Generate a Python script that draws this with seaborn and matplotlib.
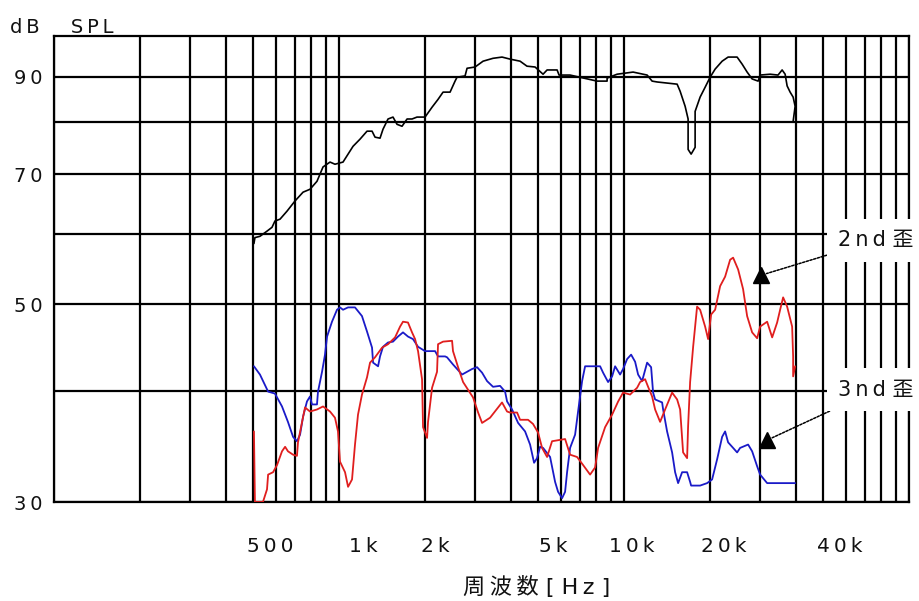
import numpy as np
import pandas as pd
import matplotlib
matplotlib.use("Agg")
import matplotlib.pyplot as plt
from matplotlib.ticker import FixedLocator, FixedFormatter, LogLocator, NullFormatter, NullLocator
import seaborn as sns

# ---------------- data ----------------
fund_hz = [503, 507, 528, 559, 582, 596, 621, 657, 701, 748, 791, 837, 879, 930, 968, 1033, 1076,
           1120, 1185, 1254, 1306, 1338, 1393, 1427, 1486, 1547, 1598, 1664, 1733, 1804, 1878, 2004,
           2121, 2226, 2318, 2453, 2554, 2595, 2769, 2814, 3002, 3203, 3471, 3733, 3983, 4319, 4566,
           4875, 5200, 5372, 5825, 5918, 6469, 8046, 8724, 8724, 9458, 10763, 12054, 12550, 13067,
           15360, 15737, 16385, 16786, 16786, 17200, 17764, 17764, 18497, 19259, 20053, 20880, 22097,
           23189, 24940, 25965, 27040, 28156, 29554, 30036, 32564, 34710, 35878, 36760, 37356, 38276,
           39213, 39854, 39213]
fund_db = [58.5, 59.4, 59.6, 60.4, 61.0, 62.0, 62.3, 63.6, 65.3, 66.8, 67.3, 68.7, 71.3, 72.2, 71.8,
           72.2, 73.7, 75.2, 76.6, 78.2, 78.2, 77.0, 76.8, 78.6, 80.7, 81.1, 79.6, 79.2, 80.7, 80.7,
           81.1, 81.1, 83.2, 84.9, 86.5, 86.5, 89.0, 89.9, 90.2, 92.0, 92.3, 93.7, 94.4, 94.7, 94.2,
           93.7, 92.5, 92.3, 90.6, 91.6, 91.6, 90.4, 90.4, 89.0, 89.0, 89.7, 90.6, 91.1, 90.4, 89.0,
           88.8, 88.3, 86.7, 83.4, 80.7, 74.6, 73.7, 75.0, 82.3, 85.4, 87.6, 89.9, 91.8, 93.7, 94.7,
           94.7, 93.0, 91.1, 89.5, 89.0, 90.4, 90.6, 90.4, 91.6, 90.6, 87.9, 86.5, 85.4, 83.4, 80.2]

h2_hz = [503, 507, 541, 559, 564, 587, 606, 631, 647, 662, 690, 712, 718, 742, 760, 791, 837, 879,
         930, 968, 992, 1008, 1050, 1076, 1111, 1138, 1166, 1204, 1254, 1285, 1338, 1416, 1486, 1573,
         1638, 1677, 1746, 1804, 1849, 1894, 1956, 1972, 2037, 2053, 2121, 2208, 2226, 2318, 2493,
         2512, 2617, 2725, 2954, 3077, 3177, 3389, 3733, 3888, 3983, 4216, 4319, 4606, 4796, 4994,
         5159, 5372, 5592, 6213, 6469, 6845, 7189, 7604, 7918, 8112, 8584, 9084, 9539, 9926, 10506,
         11117, 11390, 11860, 12150, 12550, 12858, 13388, 13940, 14751, 15360, 15737, 16120, 16652,
         16786, 17061, 17482, 18048, 18497, 19259, 19731, 20216, 20880, 21741, 22637, 23571, 24146,
         25148, 26173, 27040, 28156, 29317, 30036, 31785, 33104, 34461, 35305, 36170, 37356, 38900,
         39213, 39213, 39854]
h2_db = [36.0, 30.0, 30.0, 31.0, 32.2, 32.4, 33.0, 34.2, 34.6, 34.2, 33.9, 33.8, 35.0, 36.9, 38.3,
         37.9, 38.1, 38.4, 37.9, 37.3, 36.0, 33.3, 32.4, 31.2, 31.8, 34.8, 37.6, 39.6, 41.4, 43.0,
         43.6, 44.7, 45.1, 45.9, 47.2, 47.8, 47.7, 46.5, 45.7, 44.3, 41.2, 36.4, 35.4, 36.9, 40.3,
         42.0, 45.1, 45.4, 45.5, 44.3, 42.5, 40.9, 39.3, 37.8, 36.8, 37.3, 38.8, 37.9, 37.8, 37.8,
         37.1, 37.1, 36.7, 35.9, 34.5, 33.7, 35.1, 35.3, 33.9, 33.7, 33.0, 32.2, 32.8, 34.5, 36.4,
         37.6, 38.9, 39.8, 39.6, 40.3, 40.9, 41.2, 40.4, 39.4, 38.1, 36.9, 38.1, 39.8, 39.1, 38.1,
         34.1, 33.6, 36.5, 40.9, 44.8, 49.7, 49.3, 47.2, 45.7, 48.7, 49.3, 52.4, 53.7, 56.1, 56.4,
         54.7, 52.0, 48.5, 46.5, 45.8, 47.2, 47.8, 45.9, 47.7, 49.3, 50.9, 49.7, 47.2, 43.7, 41.5,
         42.6]

h3_hz = [503, 528, 564, 596, 631, 662, 690, 712, 730, 748, 772, 791, 804, 837, 844, 872, 893, 908,
         945, 984, 1008, 1033, 1076, 1138, 1204, 1254, 1306, 1317, 1371, 1393, 1427, 1486, 1547,
         1611, 1677, 1746, 1818, 1894, 2004, 2173, 2226, 2356, 2394, 2512, 2703, 2930, 3051, 3177,
         3308, 3471, 3674, 3826, 3888, 4048, 4250, 4497, 4682, 4836, 4954, 5076, 5200, 5504, 5731,
         5871, 6064, 6213, 6314, 6469, 6736, 6901, 7128, 7303, 7790, 8244, 8446, 8794, 9084, 9307,
         9690, 9926, 10254, 10592, 10939, 11207, 11575, 12054, 12450, 12651, 12858, 13606, 13717,
         14164, 14751, 15113, 15483, 15993, 16652, 17061, 17199, 18497, 19573, 20379, 21220, 22097,
         22637, 23189, 24146, 24942, 25554, 27259, 28156, 29317, 30036, 31785, 35305, 39854]
h3_db = [42.6, 41.7, 39.9, 39.7, 38.4, 36.9, 35.5, 35.1, 35.7, 37.4, 38.9, 39.4, 38.6, 38.6, 39.9,
         42.0, 43.9, 46.0, 47.8, 49.3, 49.6, 49.3, 49.6, 49.6, 48.5, 46.6, 44.7, 43.0, 42.6, 43.7,
         44.8, 45.3, 45.4, 46.0, 46.5, 46.0, 45.7, 44.8, 44.3, 44.3, 43.7, 43.7, 43.6, 42.8, 41.7,
         42.3, 42.5, 41.9, 41.0, 40.4, 40.5, 39.9, 38.9, 38.1, 36.8, 36.0, 34.8, 33.2, 33.6, 34.6,
         34.5, 33.7, 31.6, 30.8, 30.3, 30.8, 32.4, 34.5, 35.7, 37.9, 41.0, 42.6, 42.6, 42.6, 41.9,
         40.9, 41.5, 42.6, 41.7, 42.3, 43.4, 43.9, 43.1, 41.7, 41.0, 43.0, 42.5, 39.8, 39.1, 38.8,
         38.1, 36.0, 34.1, 32.4, 31.5, 32.4, 32.4, 31.6, 31.3, 31.3, 31.5, 31.8, 33.5, 35.5, 36.0,
         35.0, 34.5, 34.1, 34.5, 34.8, 34.2, 32.9, 32.2, 31.5, 31.5, 31.5]

# axis ticks / labels
x_label_hz = [573, 1214, 2173, 5639, 10677, 22454, 57322]
x_labels = ["500", "1k", "2k", "5k", "10k", "20k", "40k"]
y_grid_db = [30, 40, 50, 60, 70, 80, 90]
y_labels = ["30", "", "50", "", "70", "", "90"]

# annotations
ann_labels = ["2nd", "3nd"]
ann_suffix = "歪"
ann_text_hz = [56430, 56430]
ann_text_db = [59.0, 40.1]
ann_tip_hz = [30280, 31785]
ann_tip_db = [53.9, 35.2]

TS = "\u2009"  # thin space for letter spacing


def spaced(s):
    return TS.join(list(s))


# ---------------- figure ----------------
sns.set_style("white")
plt.rcParams["font.family"] = ["DejaVu Sans", "Noto Sans CJK JP"]

fig = plt.figure(figsize=(9.2, 6.01), dpi=100)
ax = fig.add_axes([54 / 920, 99 / 601, 855 / 920, 466 / 601])
ax.set_xscale("log")
ax.set_yscale("log")

df_f = pd.DataFrame({"hz": fund_hz, "db": fund_db})
df_2 = pd.DataFrame({"hz": h2_hz, "db": h2_db})
df_3 = pd.DataFrame({"hz": h3_hz, "db": h3_db})

sns.lineplot(data=df_f, x="hz", y="db", sort=False, estimator=None, color="black", lw=1.2, ax=ax, zorder=4)
sns.lineplot(data=df_3, x="hz", y="db", sort=False, estimator=None, color="#1a1ac8", lw=1.3, ax=ax, zorder=4)
sns.lineplot(data=df_2, x="hz", y="db", sort=False, estimator=None, color="#e01e1e", lw=1.3, ax=ax, zorder=5)

ax.set_xlim(100, 100000)
ax.set_ylim(30, 100)
ax.set_xlabel("")
ax.set_ylabel("")

# x: minor ticks carry the log grid, major ticks carry the labels
ax.xaxis.set_minor_locator(LogLocator(base=10, subs=np.arange(1, 10), numticks=60))
ax.xaxis.set_minor_formatter(NullFormatter())
ax.xaxis.set_major_locator(FixedLocator(x_label_hz))
ax.xaxis.set_major_formatter(FixedFormatter([spaced(s) for s in x_labels]))

ax.yaxis.set_major_locator(FixedLocator(y_grid_db))
ax.yaxis.set_major_formatter(FixedFormatter([spaced(s) for s in y_labels]))
ax.yaxis.set_minor_locator(NullLocator())

ax.set_axisbelow(True)
ax.grid(False)
ax.xaxis.grid(True, which="minor", color="black", lw=1.6)
ax.yaxis.grid(True, which="major", color="black", lw=1.6)

ax.tick_params(axis="x", which="both", length=0, pad=25, labelsize=14.5, colors="#111111")
ax.tick_params(axis="y", which="both", length=0, pad=8, labelsize=14, colors="#111111")
for sp in ax.spines.values():
    sp.set_visible(True)
    sp.set_color("black")
    sp.set_linewidth(1.6)

# axis titles
fig.text(10 / 920, 1 - 27.5 / 601, "d" + TS + "B" + "     " + spaced("SPL"), ha="left", va="center",
         fontsize=14, color="#111111")
fig.text(537 / 920, 1 - 587 / 601, spaced("周波数") + " [ " + spaced("Hz") + " ]", ha="center",
         va="center", fontsize=16, color="#111111")

# annotations
for lab, thz, tdb, phz, pdb in zip(ann_labels, ann_text_hz, ann_text_db, ann_tip_hz, ann_tip_db):
    ax.annotate(spaced(lab) + " " + ann_suffix, xy=(phz, pdb), xytext=(thz, tdb), textcoords="data",
                ha="left", va="center", fontsize=15, color="#111111", annotation_clip=False, zorder=7,
                bbox=dict(boxstyle="square,pad=0.55", fc="white", ec="none"),
                arrowprops=dict(arrowstyle="-", linestyle=(0, (1.5, 1.0)), lw=1.1, color="black",
                                shrinkA=0, shrinkB=4))
    ax.plot([phz], [pdb], marker="^", ms=12, color="black", zorder=8, clip_on=False)

fig.savefig("out.png", dpi=100)
